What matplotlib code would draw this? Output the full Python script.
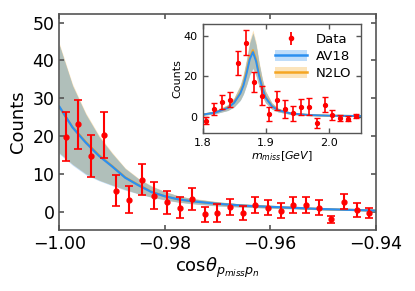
import numpy as np
import matplotlib

matplotlib.use("Agg")
import matplotlib.pyplot as plt
from matplotlib.lines import Line2D
from matplotlib.patches import Patch

# main panel: cos(theta) distribution
cos_centers = [-0.9988 + 0.0024 * k for k in range(25)]
cos_counts = [19.8, 23.1, 14.7, 20.3, 5.6, 3.2, 8.5, 4.2, 2.5, 1.1, 3.4, -0.7, -0.4,
              1.2, -0.4, 1.8, 1.1, 0.3, 1.8, 1.8, 1.1, -2.0, 2.6, 0.4, -0.3]
cos_err = [6.5, 6.5, 5.6, 6.0, 4.2, 3.6, 4.2, 3.6, 3.0, 2.8, 3.0, 2.0, 2.4,
           2.1, 1.9, 2.2, 2.0, 2.0, 2.2, 2.2, 2.0, 0.9, 2.0, 1.8, 1.3]

cos_x = [-1.0, -0.9975, -0.995, -0.9925, -0.99, -0.9875, -0.985, -0.9825, -0.98,
         -0.9775, -0.975, -0.97, -0.965, -0.96, -0.955, -0.95, -0.945, -0.94]
av18_cos = [27.8, 22.3, 18.3, 14.8, 12.0, 9.0, 7.0, 5.2, 4.1,
            3.3, 2.8, 2.1, 1.6, 1.3, 1.0, 0.7, 0.5, 0.3]
av18_cos_hi = [44.0, 33.3, 25.8, 19.9, 15.4, 11.4, 8.7, 6.7, 5.3,
               4.2, 3.5, 2.6, 2.0, 1.6, 1.2, 0.9, 0.6, 0.4]
av18_cos_lo = [15.3, 12.3, 9.8, 8.2, 6.9, 5.7, 4.7, 3.8, 3.1,
               2.5, 2.1, 1.5, 1.2, 0.9, 0.7, 0.5, 0.4, 0.2]
n2lo_cos = [27.6, 22.4, 18.5, 15.0, 12.1, 9.1, 7.1, 5.3, 4.1,
            3.3, 2.8, 2.1, 1.6, 1.3, 1.0, 0.7, 0.5, 0.3]
n2lo_cos_hi = [44.5, 33.8, 26.2, 20.3, 15.7, 11.6, 8.9, 6.9, 5.4,
               4.3, 3.6, 2.7, 2.0, 1.6, 1.2, 0.9, 0.6, 0.4]
n2lo_cos_lo = [15.6, 12.6, 10.1, 8.4, 7.1, 5.9, 4.8, 3.9, 3.2,
               2.6, 2.2, 1.6, 1.2, 1.0, 0.8, 0.5, 0.4, 0.2]

# inset: missing mass distribution
m_centers = [1.80625 + 0.0125 * k for k in range(20)]
m_counts = [-2.1, 3.7, 7.4, 8.4, 26.5, 36.7, 17.1, 10.4, 1.5, 8.1,
            3.8, 1.7, 4.8, 5.0, -3.0, 5.8, 0.8, -0.8, -1.1, 0.2]
m_err = [1.7, 3.0, 3.4, 3.6, 6.0, 6.3, 5.0, 4.8, 3.5, 4.7,
         4.3, 3.7, 4.0, 4.0, 2.5, 3.7, 2.6, 1.5, 1.3, 1.0]

m_x = [1.80, 1.82, 1.84, 1.85, 1.86, 1.865, 1.87, 1.875, 1.88, 1.885,
       1.89, 1.895, 1.90, 1.91, 1.92, 1.94, 1.97, 2.0, 2.05]
av18_m = [1.0, 2.0, 4.3, 6.8, 11.5, 15.5, 21.5, 28.5, 32.0, 27.5,
          20.0, 14.0, 9.5, 5.2, 3.2, 1.6, 0.8, 0.5, 0.3]
av18_m_hi = [1.4, 2.8, 5.8, 9.1, 15.3, 20.6, 28.0, 36.5, 41.4, 35.5,
             26.0, 18.3, 12.5, 6.8, 4.1, 2.1, 1.0, 0.7, 0.4]
av18_m_lo = [0.6, 1.4, 3.0, 4.7, 8.0, 11.0, 15.5, 20.5, 23.5, 20.0,
             14.5, 10.0, 6.8, 3.7, 2.3, 1.1, 0.5, 0.3, 0.2]
n2lo_m = [1.0, 2.1, 4.5, 7.1, 12.0, 16.3, 22.5, 29.5, 33.0, 28.5,
          20.8, 14.5, 9.8, 5.4, 3.3, 1.6, 0.8, 0.5, 0.3]
n2lo_m_hi = [1.5, 3.0, 6.0, 9.5, 16.0, 21.5, 29.0, 38.0, 43.0, 37.0,
             27.0, 19.0, 13.0, 7.0, 4.3, 2.2, 1.1, 0.7, 0.4]
n2lo_m_lo = [0.6, 1.5, 3.1, 4.9, 8.3, 11.5, 16.0, 21.2, 24.2, 20.6,
             15.0, 10.3, 7.0, 3.8, 2.4, 1.1, 0.5, 0.3, 0.2]

BLUE = "#2b8ff0"
ORANGE = "#f5a623"
BAND = "#b0bfba"
SPINE = "#555555"


def draw_model(ax, x, av, av_hi, av_lo, n2, n2_hi, n2_lo, lw):
    ax.fill_between(x, av_lo, av_hi, color=BLUE, alpha=0.3, lw=0)
    ax.fill_between(x, n2_lo, n2_hi, color=ORANGE, alpha=0.3, lw=0)
    ax.fill_between(x, np.maximum(av_lo, n2_lo), np.minimum(av_hi, n2_hi),
                    color=BAND, lw=0)
    ax.plot(x, n2, color=ORANGE, lw=lw)
    ax.plot(x, av, color=BLUE, lw=lw)


def style_axes(ax, size, width):
    ax.tick_params(direction="in", top=True, right=True, labelsize=size,
                   color=SPINE, width=width)
    for s in ax.spines.values():
        s.set_color(SPINE)
        s.set_linewidth(width)


fig = plt.figure(figsize=(4.15, 2.91), dpi=100)
ax = fig.add_axes([0.143, 0.21, 0.762, 0.742])
draw_model(ax, cos_x, av18_cos, av18_cos_hi, av18_cos_lo,
           n2lo_cos, n2lo_cos_hi, n2lo_cos_lo, 1.6)
ax.errorbar(cos_centers, cos_counts, yerr=cos_err, fmt="o", color="red",
            ms=3.5, elinewidth=1.5, capsize=3, capthick=1.2, zorder=5)
ax.set_xlim(-1.0, -0.94)
ax.set_ylim(-4.8, 52.3)
ax.set_xticks([-1.0, -0.98, -0.96, -0.94])
ax.set_xticklabels(["\u22121.00", "\u22120.98", "\u22120.96", "\u22120.94"])
ax.set_yticks([0, 10, 20, 30, 40, 50])
ax.set_xlabel(r"$\mathrm{cos}\theta_{p_{miss}p_{n}}$", fontsize=13, labelpad=2)
ax.set_ylabel("Counts", fontsize=13, labelpad=4)
style_axes(ax, 12.5, 1.2)

ins = fig.add_axes([0.488, 0.543, 0.381, 0.375])
draw_model(ins, m_x, av18_m, av18_m_hi, av18_m_lo,
           n2lo_m, n2lo_m_hi, n2lo_m_lo, 1.4)
ins.errorbar(m_centers, m_counts, yerr=m_err, fmt="o", color="red",
             ms=2.8, elinewidth=1.2, capsize=2.3, capthick=1.0, zorder=5)
ins.set_xlim(1.8, 2.051)
ins.set_ylim(-8.1, 46)
ins.set_xticks([1.8, 1.9, 2.0])
ins.set_yticks([0, 20, 40])
ins.set_xlabel(r"$m_{miss}[GeV]$", fontsize=8, labelpad=1)
ins.set_ylabel("Counts", fontsize=8, labelpad=1)
style_axes(ins, 8, 1.0)

eb = ins.errorbar([], [], yerr=[], fmt="o", color="red", ms=3,
                  elinewidth=1.3, capsize=2.5)
av_h = (Patch(facecolor=BLUE, alpha=0.3, lw=0), Line2D([], [], color=BLUE, lw=1.8))
n2_h = (Patch(facecolor=ORANGE, alpha=0.3, lw=0), Line2D([], [], color=ORANGE, lw=1.8))
ins.legend([eb, av_h, n2_h], ["Data", "AV18", "N2LO"], loc="upper right",
           frameon=False, fontsize=9.5, handlelength=2.4, handleheight=0.9,
           borderaxespad=0.3, labelspacing=0.3, handletextpad=0.7)

fig.savefig("out.png", dpi=100)
